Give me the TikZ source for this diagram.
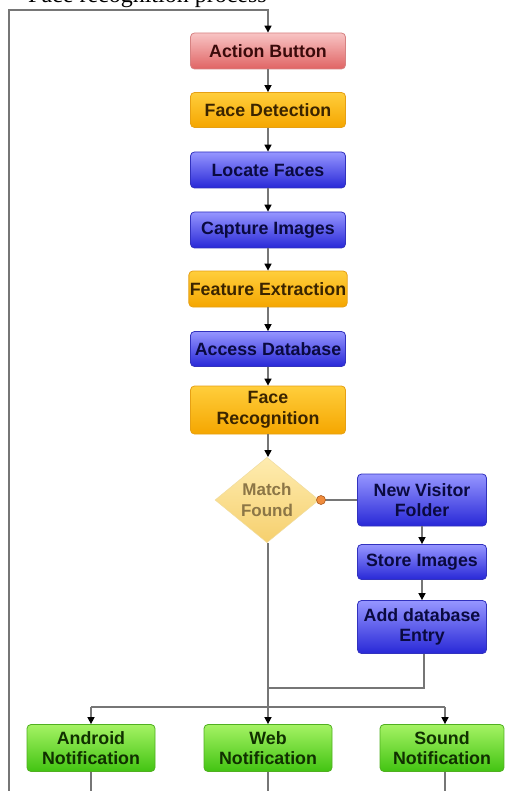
\documentclass[tikz,border=0pt]{standalone}
\usepackage{fontspec}
\setmainfont{Liberation Serif}
\newfontfamily\boxfont{Liberation Sans}
\usetikzlibrary{shapes.geometric,arrows.meta}
\definecolor{linegray}{HTML}{767676}
\tikzset{
  box/.style={rectangle, rounded corners=4pt, minimum width=155pt, minimum height=36pt,
    inner sep=1pt, align=center, line width=0.8pt,
    font=\boxfont\bfseries\fontsize{17.8}{20.5}\selectfont},
  redbox/.style={box, top color={rgb,255:red,248;green,196;blue,196}, bottom color={rgb,255:red,224;green,100;blue,100}, draw={rgb,255:red,214;green,130;blue,130}, text={rgb,255:red,58;green,10;blue,10}},
  orangebox/.style={box, top color={rgb,255:red,255;green,206;blue,60}, bottom color={rgb,255:red,245;green,166;blue,0}, draw={rgb,255:red,230;green,160;blue,20}, text={rgb,255:red,58;green,36;blue,0}},
  bluebox/.style={box, top color={rgb,255:red,150;green,150;blue,255}, bottom color={rgb,255:red,40;green,40;blue,215}, draw={rgb,255:red,50;green,50;blue,190}, text={rgb,255:red,10;green,10;blue,64}},
  greenbox/.style={box, minimum width=128pt, minimum height=47pt, top color={rgb,255:red,165;green,242;blue,100}, bottom color={rgb,255:red,66;green,196;blue,18}, draw={rgb,255:red,80;green,176;blue,32}, text={rgb,255:red,16;green,48;blue,0}},
  conn/.style={draw=linegray, line width=1.5pt},
  arr/.style={conn, -{Triangle[width=7pt,length=7pt,color=black]}},
}
\begin{document}
\begin{tikzpicture}[x=1pt,y=-1pt]
\useasboundingbox (0,0) rectangle (505,791);
% cut-off caption line at the top
\begin{scope}
\clip (0,0) rectangle (505,9);
\node[anchor=base west, inner sep=0, font=\fontsize{24}{28}\selectfont] (title) at (28,2.5) {Face recognition process};
\end{scope}

% main column
\node[redbox] (act) at (268,51) {Action Button};
\node[orangebox, minimum height=35pt] (det) at (268,110) {Face Detection};
\node[bluebox] (loc) at (268,170) {Locate Faces};
\node[bluebox] (cap) at (268,230) {Capture Images};
\node[orangebox] (fea) at (268,289) {Feature Extraction};
\node[bluebox, minimum height=35pt] (acc) at (268,349) {Access Database};
\node[orangebox, minimum height=48pt] (rec) at (268,410) {Face\\Recognition};
\node[diamond, minimum width=104pt, minimum height=84pt, inner sep=0pt, align=center,
  top color={rgb,255:red,254;green,236;blue,176}, bottom color={rgb,255:red,246;green,208;blue,110},
  draw={rgb,255:red,240;green,220;blue,160}, line width=0.5pt,
  text={rgb,255:red,140;green,118;blue,70},
  font=\boxfont\bfseries\fontsize{17}{21}\selectfont] (match) at (267,500) {Match\\Found};

% right column
\node[bluebox, minimum width=129pt, minimum height=52pt] (nvf) at (422,500) {New Visitor\\Folder};
\node[bluebox, minimum width=129pt, minimum height=35pt] (sto) at (422,562) {Store Images};
\node[bluebox, minimum width=129pt, minimum height=53pt] (add) at (422,627) {Add database\\Entry};

% notifications
\node[greenbox] (and) at (91,748) {Android\\Notification};
\node[greenbox] (web) at (268,748) {Web\\Notification};
\node[greenbox, minimum width=124pt] (snd) at (442,748) {Sound\\Notification};

% coordinates
\coordinate (loopbot) at (9,791);
\coordinate (looptl) at (9,10);
\coordinate (looptr) at (268,10);
\coordinate (dot) at (321,500);
\coordinate (addturn) at (424,688);
\coordinate (merge) at (268,688);
\coordinate (split) at (268,707);
\coordinate (splitl) at (91,707);
\coordinate (splitr) at (445,707);
\coordinate (andbot) at (91,791);
\coordinate (webbot) at (268,791);
\coordinate (sndbot) at (445,791);

% feedback loop
\draw[arr] (loopbot) -- (looptl) -- (looptr) -- (act.north);

% main chain
\draw[arr] (act) -- (det);
\draw[arr] (det) -- (loc);
\draw[arr] (loc) -- (cap);
\draw[arr] (cap) -- (fea);
\draw[arr] (fea) -- (acc);
\draw[arr] (acc) -- (rec);
\draw[arr] (rec.south) -- (match.north -| rec.south);

% no-match branch
\draw[conn] (dot) -- (nvf.west);
\draw[fill={rgb,255:red,240;green,140;blue,60}, draw={rgb,255:red,170;green,90;blue,30}, line width=0.6pt] (dot) circle (4.5pt);
\draw[arr] (nvf) -- (sto);
\draw[arr] (sto) -- (add);
\draw[conn] (add.south -| addturn) -- (addturn) -- (merge);

% to notifications
\draw[conn] (match.south -| split) -- (split);
\draw[conn] (splitl) -- (splitr);
\draw[arr] (splitl) -- (and.north);
\draw[arr] (split) -- (web.north);
\draw[arr] (splitr) -- (snd.north -| splitr);
\draw[conn] (and.south) -- (andbot);
\draw[conn] (web.south) -- (webbot);
\draw[conn] (snd.south -| sndbot) -- (sndbot);
\end{tikzpicture}
\end{document}
